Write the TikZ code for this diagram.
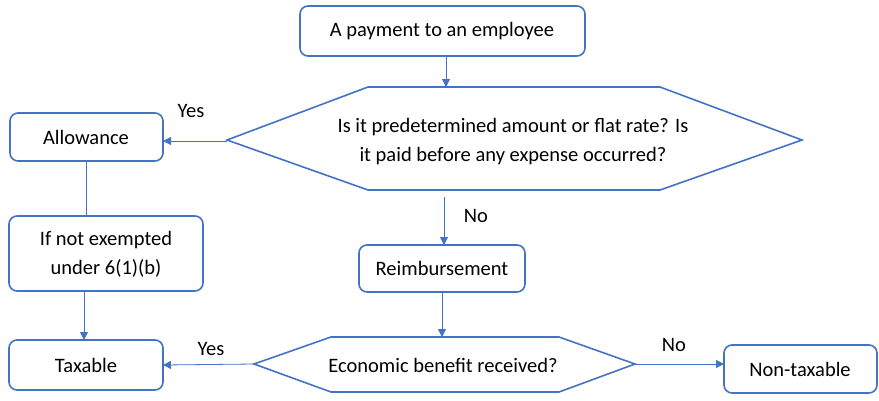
\documentclass[tikz,border=0pt]{standalone}
\usepackage{fontspec}
\setmainfont{Carlito}
\usetikzlibrary{arrows.meta}
\definecolor{obl}{HTML}{4472C4}
\begin{document}
\begin{tikzpicture}[x=1pt,y=-1pt,
  box/.style={draw=obl,line width=1.6pt,rounded corners=8pt,fill=white},
  hexa/.style={draw=obl,line width=1.6pt,line join=miter},
  txt/.style={font=\fontsize{20.5}{29}\selectfont,align=center,inner sep=0pt},
  arr/.style={draw=obl,line width=0.8pt,-{Triangle[length=8pt,width=8pt]}},
  ln/.style={draw=obl,line width=0.8pt},
  lbl/.style={font=\fontsize{20.5}{25}\selectfont,inner sep=0pt}]
\useasboundingbox (0,0) rectangle (879,400);
% boxes
\draw[box] (300,6) rectangle (585,56);
\node[txt] (pay) at (442,31) {A payment to an employee};
\coordinate (payb) at (446,56);
\draw[box] (10,113) rectangle (163,161);
\node[txt] (allow) at (86,137) {Allowance};
\coordinate (allowr) at (163,141);
\coordinate (allowb) at (86,161);
\draw[box] (9,216) rectangle (203,291);
\node[txt] (ifnot) at (106,254) {If not exempted\\under 6(1)(b)};
\coordinate (ifnott) at (86,216);
\coordinate (ifnotb) at (84,291);
\draw[box] (9,340) rectangle (163,390);
\node[txt] (tax) at (86,365) {Taxable};
\coordinate (taxt) at (84,340);
\coordinate (taxr) at (163,365);
\draw[box] (359,245) rectangle (525,292);
\node[txt] (reim) at (442,268) {Reimbursement};
\coordinate (reimt) at (444,245);
\coordinate (reimb) at (442,292);
\draw[box] (724,345) rectangle (877,393);
\node[txt] (nontax) at (800,369) {Non-taxable};
\coordinate (nontaxl) at (724,364);
% hexagons
\draw[hexa] (227,140) -- (368,87) -- (660,87) -- (802,140) -- (660,190) -- (368,190) -- cycle;
\node[txt] (q1) at (513,142) {Is it predetermined amount or flat rate? Is\\it paid before any expense occurred?};
\coordinate (q1t) at (446,87);
\coordinate (q1l) at (227,141);
\coordinate (q1b) at (444,197);
\draw[hexa] (254,364) -- (331,337) -- (559,337) -- (635,364) -- (559,392) -- (331,392) -- cycle;
\node[txt] (q2) at (443,365) {Economic benefit received?};
\coordinate (q2t) at (442,337);
\coordinate (q2l) at (254,364);
\coordinate (q2r) at (635,364);
% connectors
\draw[arr] (payb) -- (q1t);
\draw[arr] (q1l) -- (allowr);
\draw[ln] (allowb) -- (ifnott);
\draw[arr] (ifnotb) -- (taxt);
\draw[arr] (q1b) -- (reimt);
\draw[arr] (reimb) -- (q2t);
\draw[arr] (q2l) -- (taxr);
\draw[arr] (q2r) -- (nontaxl);
% labels
\node[lbl] (y1) at (191,111) {Yes};
\node[lbl] (n1) at (476,216) {No};
\node[lbl] (y2) at (211,349) {Yes};
\node[lbl] (n2) at (674,345) {No};
\end{tikzpicture}
\end{document}
